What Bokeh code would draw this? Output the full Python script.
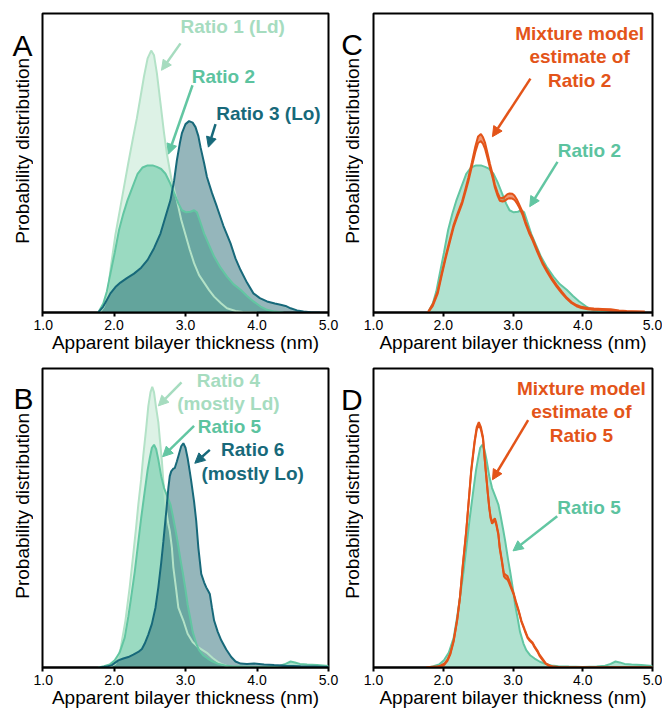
from math import pi
from bokeh.plotting import figure
from bokeh.models import Arrow, NormalHead, Label, FixedTicker, Range1d, NumeralTickFormatter
from bokeh.layouts import column, row
from bokeh.embed import file_html
from bokeh.resources import INLINE
from bokeh.core.properties import value

# ---------------- data ----------------
tick_vals = [1, 2, 3, 4, 5]
tick_labels = ["1.0", "2.0", "3.0", "4.0", "5.0"]

ratio1_x = [1.80, 1.86, 1.91, 1.96, 2.02, 2.08, 2.14, 2.20, 2.26, 2.32, 2.37, 2.42, 2.47, 2.52, 2.56, 2.60,
            2.65, 2.70, 2.74, 2.80, 2.88, 2.94, 3.00, 3.06, 3.12, 3.19, 3.26, 3.33, 3.40, 3.50, 3.58, 3.70,
            3.80, 4.00]
ratio1_y = [0.0, 0.02, 0.064, 0.16, 0.26, 0.34, 0.42, 0.50, 0.576, 0.65, 0.72, 0.79, 0.85, 0.876, 0.86, 0.80,
            0.70, 0.60, 0.53, 0.45, 0.375, 0.31, 0.26, 0.21, 0.165, 0.125, 0.10, 0.075, 0.053, 0.03, 0.014, 0.005,
            0.002, 0.0]

ratio2_x = [1.78, 1.85, 1.90, 1.95, 2.01, 2.07, 2.13, 2.19, 2.26, 2.33, 2.40, 2.47, 2.54, 2.60, 2.66, 2.72,
            2.78, 2.84, 2.90, 2.95, 3.01, 3.07, 3.12, 3.16, 3.21, 3.26, 3.33, 3.40, 3.49, 3.58, 3.67, 3.77,
            3.86, 3.95, 4.05, 4.14, 4.25, 4.37]
ratio2_y = [0.0, 0.03, 0.07, 0.13, 0.20, 0.276, 0.33, 0.376, 0.42, 0.464, 0.485, 0.492, 0.492, 0.487, 0.48, 0.464,
            0.435, 0.40, 0.365, 0.342, 0.335, 0.337, 0.342, 0.335, 0.30, 0.264, 0.225, 0.187, 0.15, 0.12, 0.095, 0.076,
            0.055, 0.037, 0.02, 0.009, 0.003, 0.0]

ratio3_x = [1.78, 1.85, 1.95, 2.02, 2.09, 2.18, 2.28, 2.38, 2.47, 2.56, 2.65, 2.72, 2.79, 2.84, 2.88, 2.92,
            2.95, 3.00, 3.05, 3.10, 3.14, 3.18, 3.21, 3.26, 3.30, 3.37, 3.44, 3.53, 3.63, 3.70, 3.77, 3.86,
            3.95, 4.04, 4.14, 4.25, 4.33, 4.40, 4.47, 4.56, 4.65, 4.75, 4.88]
ratio3_y = [0.0, 0.02, 0.064, 0.085, 0.10, 0.115, 0.13, 0.15, 0.176, 0.215, 0.264, 0.32, 0.376, 0.44, 0.51, 0.565,
            0.60, 0.63, 0.64, 0.635, 0.62, 0.59, 0.553, 0.50, 0.453, 0.40, 0.353, 0.29, 0.231, 0.18, 0.142, 0.10,
            0.064, 0.048, 0.037, 0.03, 0.026, 0.022, 0.014, 0.007, 0.003, 0.001, 0.0]

ratio4_x = [1.90, 1.96, 2.02, 2.09, 2.16, 2.22, 2.27, 2.31, 2.34, 2.38, 2.41, 2.45, 2.48, 2.51, 2.535, 2.56,
            2.59, 2.62, 2.64, 2.67, 2.69, 2.73, 2.76, 2.78, 2.81, 2.83, 2.87, 2.90, 2.94, 2.97, 3.03, 3.10,
            3.17, 3.24, 3.31, 3.38, 3.45, 3.52, 3.59, 3.70]
ratio4_y = [0.0, 0.004, 0.013, 0.06, 0.157, 0.27, 0.38, 0.47, 0.545, 0.63, 0.71, 0.80, 0.874, 0.92, 0.939, 0.92,
            0.867, 0.82, 0.767, 0.69, 0.623, 0.523, 0.48, 0.457, 0.40, 0.335, 0.26, 0.20, 0.175, 0.157, 0.113, 0.085,
            0.069, 0.058, 0.047, 0.032, 0.019, 0.01, 0.004, 0.0]

ratio5_x = [1.78, 1.86, 1.94, 2.01, 2.08, 2.15, 2.20, 2.24, 2.29, 2.33, 2.38, 2.43, 2.47, 2.50, 2.53, 2.56,
            2.59, 2.62, 2.66, 2.70, 2.75, 2.79, 2.82, 2.86, 2.89, 2.93, 2.96, 3.00, 3.03, 3.07, 3.10, 3.15,
            3.19, 3.25, 3.31, 3.38, 3.45, 3.55, 3.65, 3.80, 4.00, 4.20, 4.32, 4.40, 4.47, 4.53, 4.60, 4.70,
            4.84, 5.00]
ratio5_y = [0.0, 0.004, 0.01, 0.024, 0.05, 0.10, 0.17, 0.235, 0.32, 0.40, 0.50, 0.59, 0.66, 0.70, 0.735, 0.745,
            0.73, 0.695, 0.64, 0.60, 0.57, 0.545, 0.51, 0.46, 0.42, 0.36, 0.32, 0.26, 0.21, 0.16, 0.12, 0.08,
            0.058, 0.04, 0.03, 0.02, 0.013, 0.007, 0.004, 0.003, 0.002, 0.003, 0.006, 0.012, 0.02, 0.017, 0.012, 0.01,
            0.008, 0.005]

ratio6_x = [1.80, 1.90, 1.97, 2.06, 2.13, 2.20, 2.27, 2.34, 2.39, 2.43, 2.48, 2.53, 2.58, 2.62, 2.66, 2.69,
            2.73, 2.76, 2.78, 2.80, 2.83, 2.85, 2.88, 2.91, 2.94, 2.97, 3.00, 3.03, 3.06, 3.08, 3.12, 3.15,
            3.18, 3.22, 3.26, 3.29, 3.32, 3.34, 3.37, 3.40, 3.45, 3.50, 3.57, 3.64, 3.70, 3.77, 3.86, 3.96,
            4.10, 4.24, 4.40, 4.61, 4.80, 5.00]
ratio6_y = [0.0, 0.003, 0.008, 0.024, 0.03, 0.035, 0.043, 0.052, 0.062, 0.08, 0.11, 0.146, 0.20, 0.268, 0.35, 0.42,
            0.52, 0.60, 0.64, 0.656, 0.665, 0.667, 0.69, 0.715, 0.74, 0.75, 0.735, 0.70, 0.655, 0.623, 0.555, 0.49,
            0.40, 0.313, 0.285, 0.268, 0.255, 0.246, 0.20, 0.157, 0.12, 0.091, 0.06, 0.035, 0.02, 0.013, 0.012, 0.013,
            0.01, 0.008, 0.006, 0.004, 0.003, 0.002]

mixC_x = [1.78, 1.85, 1.92, 1.98, 2.04, 2.10, 2.15, 2.21, 2.27, 2.32, 2.36, 2.41, 2.46, 2.50, 2.54, 2.57,
          2.60, 2.64, 2.67, 2.71, 2.74, 2.78, 2.81, 2.85, 2.88, 2.92, 2.95, 2.99, 3.02, 3.06, 3.09, 3.14,
          3.18, 3.23, 3.28, 3.35, 3.42, 3.49, 3.56, 3.63, 3.70, 3.77, 3.84, 3.91, 3.98, 4.07, 4.16, 4.28,
          4.40, 4.52, 4.63, 4.76, 4.89]
mixC_y = [0.0, 0.025, 0.067, 0.13, 0.19, 0.245, 0.29, 0.33, 0.367, 0.41, 0.445, 0.495, 0.546, 0.578, 0.585, 0.575,
          0.557, 0.52, 0.49, 0.455, 0.423, 0.395, 0.379, 0.377, 0.38, 0.388, 0.39, 0.389, 0.384, 0.37, 0.356, 0.33,
          0.30, 0.27, 0.245, 0.205, 0.167, 0.138, 0.111, 0.088, 0.067, 0.048, 0.033, 0.023, 0.017, 0.013, 0.011, 0.01,
          0.009, 0.006, 0.004, 0.003, 0.002]
mixC_band = [0.001, 0.003, 0.004, 0.004, 0.004, 0.004, 0.004, 0.004, 0.004, 0.005, 0.006, 0.007, 0.009, 0.011, 0.012, 0.011,
             0.010, 0.008, 0.007, 0.006, 0.005, 0.005, 0.005, 0.006, 0.007, 0.008, 0.008, 0.008, 0.007, 0.006, 0.005, 0.005,
             0.004, 0.004, 0.004, 0.004, 0.003, 0.003, 0.003, 0.003, 0.003, 0.002, 0.002, 0.002, 0.002, 0.002, 0.002, 0.002,
             0.002, 0.001, 0.001, 0.001, 0.001]

mixD_x = [1.76, 1.90, 1.96, 2.02, 2.06, 2.10, 2.15, 2.20, 2.24, 2.28, 2.33, 2.37, 2.40, 2.45, 2.48, 2.51,
          2.54, 2.57, 2.59, 2.61, 2.64, 2.66, 2.68, 2.70, 2.72, 2.74, 2.76, 2.79, 2.81, 2.84, 2.87, 2.89,
          2.92, 2.94, 2.97, 3.01, 3.04, 3.08, 3.12, 3.17, 3.21, 3.24, 3.28, 3.31, 3.35, 3.38, 3.43, 3.47,
          3.53, 3.59, 3.70, 4.00, 4.50, 5.00]
mixD_y = [0.0, 0.002, 0.004, 0.012, 0.024, 0.045, 0.09, 0.16, 0.235, 0.34, 0.457, 0.57, 0.656, 0.756, 0.80, 0.817,
          0.80, 0.767, 0.71, 0.656, 0.58, 0.534, 0.50, 0.484, 0.49, 0.496, 0.48, 0.446, 0.40, 0.357, 0.31, 0.305,
          0.30, 0.29, 0.27, 0.246, 0.22, 0.19, 0.155, 0.124, 0.10, 0.091, 0.082, 0.069, 0.055, 0.041, 0.025, 0.013,
          0.005, 0.002, 0.0, 0.0, 0.0, 0.0]
mixD_band = [0.001, 0.001, 0.002, 0.002, 0.002, 0.002, 0.002, 0.002, 0.002, 0.002, 0.002, 0.002, 0.003, 0.003, 0.004, 0.004,
             0.004, 0.003, 0.003, 0.002, 0.002, 0.002, 0.002, 0.003, 0.003, 0.003, 0.003, 0.002, 0.002, 0.003, 0.005, 0.006,
             0.006, 0.005, 0.003, 0.002, 0.002, 0.002, 0.002, 0.002, 0.002, 0.002, 0.002, 0.002, 0.002, 0.002, 0.002, 0.001,
             0.001, 0.001, 0.0, 0.0, 0.0, 0.0]

y_label = "Probability distribution"
x_label = "Apparent bilayer thickness (nm)"

# ---------------- styles ----------------
C_LD = "#b3e2c7"
C_LD_TXT = "#a6dcbf"
C_MID = "#62c6a2"
C_MID_TXT = "#5cc39f"
C_LO = "#17697a"
C_LO_FILL = "#2b6d77"
C_OR = "#e35419"
FONT = "Liberation Sans"

FRAME_H = 300
TOP_B, BOT_B = 13, 42
ROW_H = TOP_B + FRAME_H + BOT_B


def side_fig(letter, width, letter_x, baseline_from_top, label_x):
    s = figure(width=width, height=ROW_H, x_range=Range1d(0, width), y_range=Range1d(0, ROW_H),
               x_axis_location=None, y_axis_location=None,
               output_backend="svg", toolbar_location=None, min_border=0)
    s.grid.visible = False
    s.outline_line_color = None
    s.background_fill_color = "white"
    s.border_fill_color = "white"
    s.text(x=[letter_x], y=[ROW_H - baseline_from_top], text=[letter],
           text_font=value(FONT), text_font_size="30px", text_color="black",
           text_align="left", text_baseline="alphabetic")
    s.text(x=[label_x], y=[ROW_H - TOP_B - FRAME_H / 2], text=[y_label], angle=pi / 2,
           text_font=value(FONT), text_font_size="19px", text_color="black",
           text_align="center", text_baseline="middle")
    return s


def make_fig(frame_w, left, right):
    p = figure(width=left + frame_w + right, height=ROW_H,
               x_range=Range1d(1, 5), y_range=Range1d(0, 1),
               y_axis_location=None,
               output_backend="svg", toolbar_location=None,
               min_border_left=left, min_border_right=right,
               min_border_top=TOP_B, min_border_bottom=BOT_B)
    p.xgrid.visible = False
    p.ygrid.visible = False
    p.outline_line_color = "black"
    p.outline_line_width = 2
    p.outline_line_alpha = 1
    p.background_fill_color = "white"
    p.border_fill_color = "white"

    xa = p.xaxis[0]
    xa.ticker = FixedTicker(ticks=tick_vals)
    xa.formatter = NumeralTickFormatter(format="0.0")
    xa.major_label_overrides = {v: s for v, s in zip(tick_vals, tick_labels)}
    xa.minor_tick_line_color = None
    xa.major_tick_out = 4
    xa.major_tick_in = 0
    xa.major_tick_line_width = 2
    xa.axis_line_width = 2
    xa.major_label_standoff = 3
    xa.major_label_text_font = FONT
    xa.major_label_text_font_size = "14px"
    xa.major_label_text_color = "black"
    xa.axis_label = x_label
    xa.axis_label_text_font = FONT
    xa.axis_label_text_font_size = "19px"
    xa.axis_label_text_font_style = "normal"
    xa.axis_label_text_color = "black"
    xa.axis_label_standoff = -1
    return p


def dist(p, xs, ys, fill, alpha):
    p.varea(x=xs, y1=[0] * len(xs), y2=ys, fill_color=fill, fill_alpha=alpha)


def label(p, x, y, text, color):
    p.add_layout(Label(x=x, y=y, text=text, text_font=FONT, text_font_size="19px",
                       text_font_style="bold", text_color=color,
                       text_align="center", text_baseline="middle"))


def arrow(p, x0, y0, x1, y1, color):
    p.add_layout(Arrow(end=NormalHead(size=10, fill_color=color, line_color=color, line_width=1),
                       x_start=x0, y_start=y0, x_end=x1, y_end=y1,
                       line_color=color, line_width=2.5))


def band(p, xs, ys, hw):
    lo = [y - h for y, h in zip(ys, hw)]
    hi = [y + h for y, h in zip(ys, hw)]
    p.varea(x=xs, y1=lo, y2=hi, fill_color=C_OR, fill_alpha=0.6)
    p.line(xs, lo, line_color=C_OR, line_width=2)
    p.line(xs, hi, line_color=C_OR, line_width=2)


# ---------------- panel A ----------------
sA = side_fig("A", 33, 12, 38.3, 21.5)
pA = make_fig(286, 9, 11)
dist(pA, ratio1_x, ratio1_y, C_LD, 0.45)
dist(pA, ratio2_x, ratio2_y, C_MID, 0.55)
dist(pA, ratio3_x, ratio3_y, C_LO_FILL, 0.5)
pA.line(ratio1_x, ratio1_y, line_color=C_LD, line_width=2)
pA.line(ratio2_x, ratio2_y, line_color=C_MID, line_width=2)
pA.line(ratio3_x, ratio3_y, line_color=C_LO, line_width=2)
label(pA, 3.66, 0.957, "Ratio 1 (Ld)", C_LD_TXT)
label(pA, 3.53, 0.79, "Ratio 2", C_MID_TXT)
label(pA, 4.16, 0.667, "Ratio 3 (Lo)", C_LO)
arrow(pA, 2.93, 0.90, 2.664, 0.81, C_LD_TXT)
arrow(pA, 3.098, 0.76, 2.762, 0.53, C_MID)
arrow(pA, 3.42, 0.63, 3.32, 0.553, C_LO)

# ---------------- panel C ----------------
sC = side_fig("C", 24, 1.8, 37, 13.0)
pC = make_fig(279, 10, 10)
dist(pC, ratio2_x, ratio2_y, C_MID, 0.5)
pC.line(ratio2_x, ratio2_y, line_color=C_MID, line_width=2)
band(pC, mixC_x, mixC_y, mixC_band)
label(pC, 3.955, 0.933, "Mixture model", C_OR)
label(pC, 3.955, 0.855, "estimate of", C_OR)
label(pC, 3.955, 0.777, "Ratio 2", C_OR)
arrow(pC, 3.25, 0.782, 2.705, 0.588, C_OR)
label(pC, 4.095, 0.543, "Ratio 2", C_MID_TXT)
arrow(pC, 3.638, 0.504, 3.24, 0.354, C_MID)

# ---------------- panel B ----------------
sB = side_fig("B", 33, 13, 36, 21.5)
pB = make_fig(286, 9, 11)
dist(pB, ratio4_x, ratio4_y, C_LD, 0.45)
dist(pB, ratio5_x, ratio5_y, C_MID, 0.55)
dist(pB, ratio6_x, ratio6_y, C_LO_FILL, 0.5)
pB.line(ratio4_x, ratio4_y, line_color=C_LD, line_width=2)
pB.line(ratio5_x, ratio5_y, line_color=C_MID, line_width=2)
pB.line(ratio6_x, ratio6_y, line_color=C_LO, line_width=2)
label(pB, 3.60, 0.96, "Ratio 4", C_LD_TXT)
label(pB, 3.60, 0.883, "(mostly Ld)", C_LD_TXT)
label(pB, 3.615, 0.805, "Ratio 5", C_MID_TXT)
label(pB, 3.94, 0.728, "Ratio 6", C_LO)
label(pB, 3.94, 0.65, "(mostly Lo)", C_LO)
arrow(pB, 2.944, 0.954, 2.62, 0.875, C_LD_TXT)
arrow(pB, 3.12, 0.808, 2.68, 0.705, C_MID)
arrow(pB, 3.34, 0.728, 3.13, 0.683, C_LO)

# ---------------- panel D ----------------
sD = side_fig("D", 24, 1.5, 36.7, 13.0)
pD = make_fig(279, 10, 10)
dist(pD, ratio5_x, ratio5_y, C_MID, 0.5)
pD.line(ratio5_x, ratio5_y, line_color=C_MID, line_width=2)
band(pD, mixD_x, mixD_y, mixD_band)
label(pD, 3.98, 0.933, "Mixture model", C_OR)
label(pD, 3.98, 0.855, "estimate of", C_OR)
label(pD, 3.98, 0.777, "Ratio 5", C_OR)
arrow(pD, 3.217, 0.827, 2.706, 0.628, C_OR)
label(pD, 4.09, 0.534, "Ratio 5", C_MID_TXT)
arrow(pD, 3.634, 0.506, 3.0, 0.39, C_MID)

layout = column(row(sA, pA, sC, pC), row(sB, pB, sD, pD))
open("out.html", "w").write(file_html(layout, INLINE))
